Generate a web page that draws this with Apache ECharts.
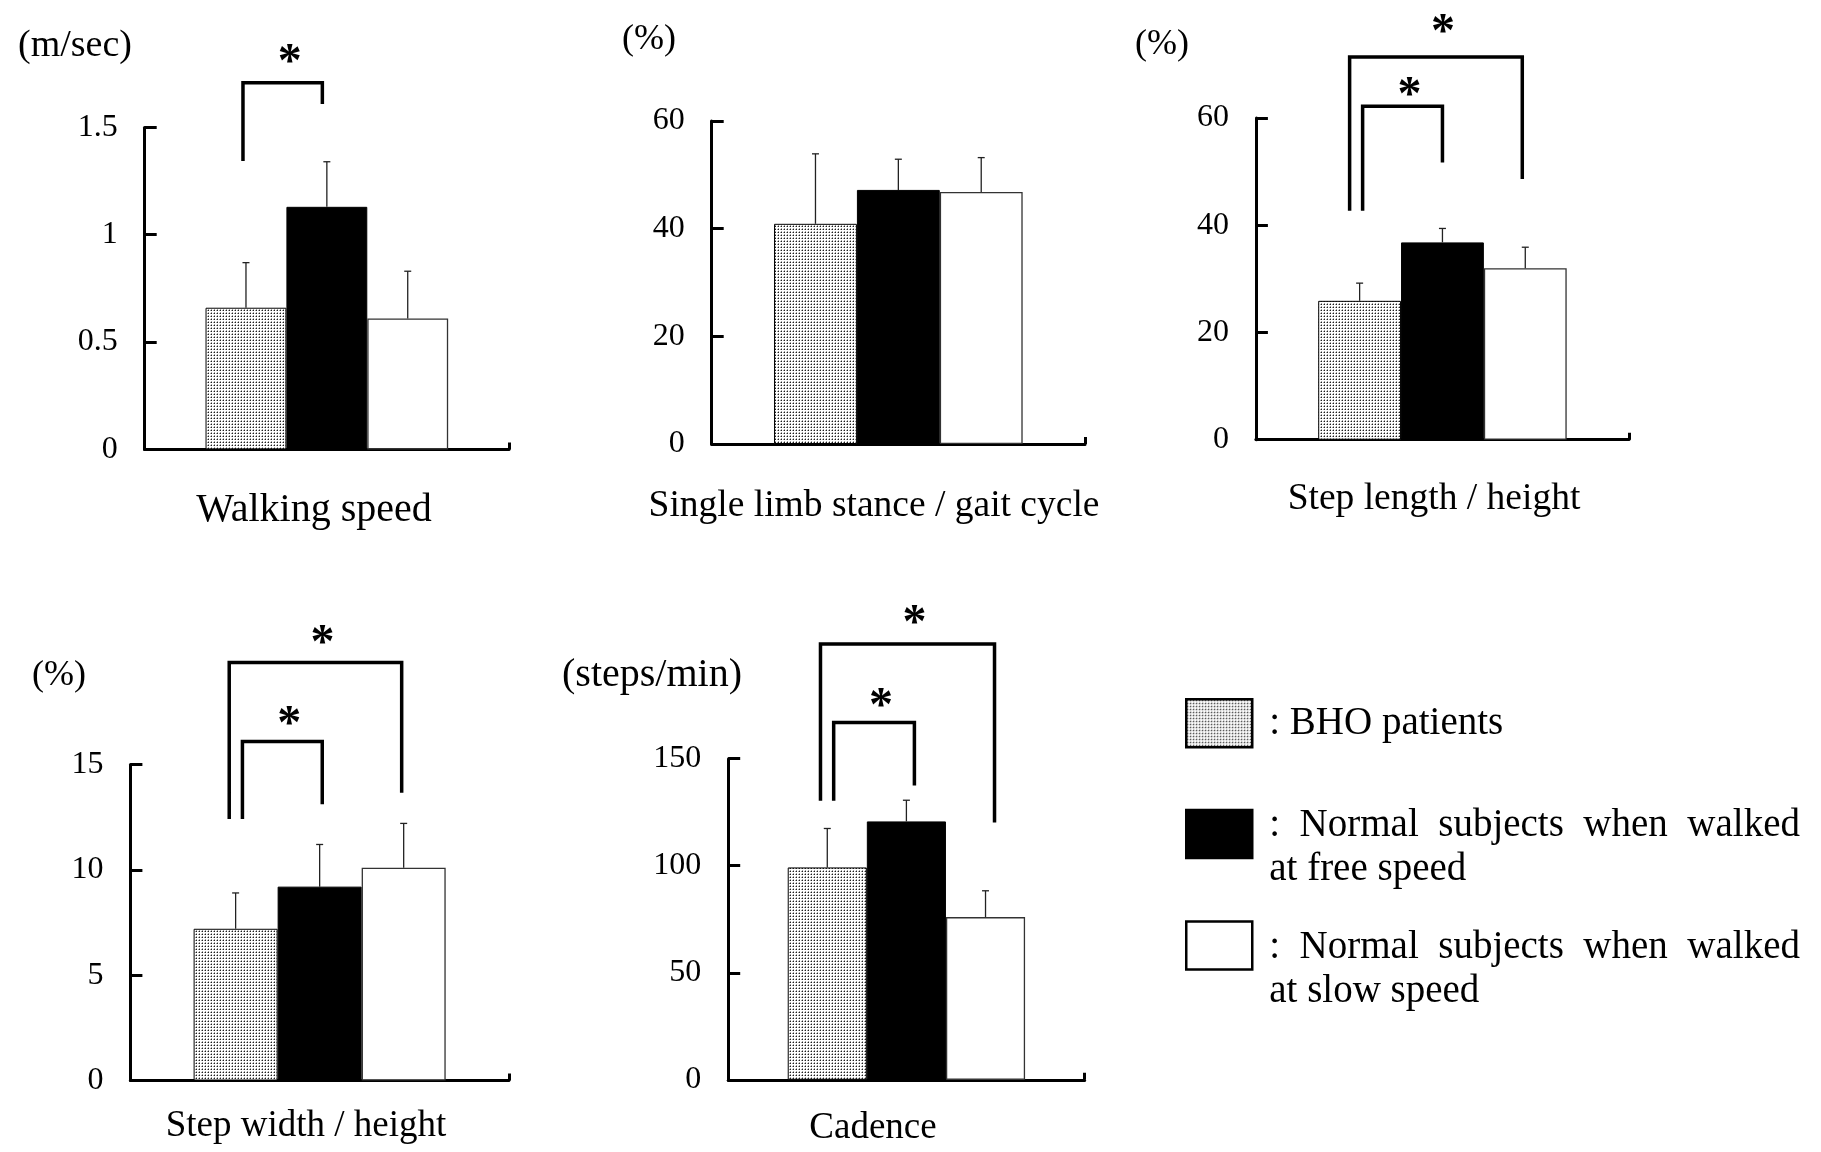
<!DOCTYPE html>
<html><head><meta charset="utf-8">
<script src="https://cdn.jsdelivr.net/npm/echarts@6/dist/echarts.min.js"></script>
<style>html,body{margin:0;padding:0;background:#fff}#c{width:1821px;height:1152px}</style>
</head><body><div id="c"></div>
<script>
// ---------------- data ----------------
const groups = ['BHO patients', 'Normal subjects when walked at free speed', 'Normal subjects when walked at slow speed'];
const panelTitles = ['Walking speed', 'Single limb stance / gait cycle', 'Step length / height', 'Step width / height', 'Cadence'];
const unitLabels = ['(m/sec)', '(%)', '(%)', '(%)', '(steps/min)'];

const walkingSpeed   = [0.66, 1.13, 0.61];
const walkingSpeedSD = [0.21, 0.21, 0.22];
const singleLimb     = [40.9, 47.2, 46.8];
const singleLimbSD   = [13.0, 5.7, 6.4];
const stepLength     = [25.9, 36.8, 32.0];
const stepLengthSD   = [3.3, 2.6, 3.9];
const stepWidth      = [7.2, 9.2, 10.1];
const stepWidthSD    = [1.7, 2.0, 2.1];
const cadence        = [99.2, 120.7, 76.0];
const cadenceSD      = [18.2, 9.9, 12.3];

const yMax  = [1.5, 60, 60, 15, 150];
const yStep = [0.5, 20, 20, 5, 50];

// significance brackets (in axis units): top line, leg ends, star height
const sigBrackets = [
  [{from: 0, to: 1, top: 1.708, fromEnd: 1.343, toEnd: 1.609, star: 1.837}],
  [],
  [{from: 0, to: 2, top: 71.4, fromEnd: 42.7, toEnd: 48.6, star: 77.5},
   {from: 0, to: 1, top: 62.2, fromEnd: 42.7, toEnd: 51.7, star: 65.6}],
  [{from: 0, to: 2, top: 19.83, fromEnd: 12.41, toEnd: 13.65, star: 21.13},
   {from: 0, to: 1, top: 16.09, fromEnd: 12.41, toEnd: 13.11, star: 17.29}],
  [{from: 0, to: 2, top: 203.6, fromEnd: 130.4, toEnd: 120.2, star: 216.8},
   {from: 0, to: 1, top: 166.9, fromEnd: 130.4, toEnd: 137.5, star: 178.1}]
];

const panelValues = [walkingSpeed, singleLimb, stepLength, stepWidth, cadence];
const panelSD = [walkingSpeedSD, singleLimbSD, stepLengthSD, stepWidthSD, cadenceSD];

// ---------------- layout / style ----------------
const FONT = 'Liberation Serif';
const GAP = 0.334;
const grids = [
  {left: 144.7, top: 127.4, width: 364.3, height: 322},
  {left: 711.7, top: 121, width: 373.3, height: 323},
  {left: 1255.9, top: 118, width: 373.1, height: 321.7},
  {left: 130.4, top: 764.4, width: 378.5, height: 316.1},
  {left: 728.2, top: 758.7, width: 356.4, height: 321.1}
];
const titlePos = [[314, 510, 40], [874, 506, 37.5], [1434, 499.3, 37.5], [306, 1126.2, 37], [873, 1128, 37]];
const unitPos = [[132, 46.5, 38], [676, 39.6, 36], [1189, 44.8, 36], [86, 675.7, 36], [742, 675.7, 40]];
// horizontal pixel nudges of bracket legs [left, right]
const bracketDx = [
  [[-3, -4.5]],
  [],
  [[-10, -3], [3, 0]],
  [[-6.4, -2], [6.8, 2.6]],
  [[-6.8, 9], [6.4, 8]]
];

function stipple() {
  const c = document.createElement('canvas');
  c.width = 3; c.height = 3;
  const g = c.getContext('2d');
  g.fillStyle = '#ffffff'; g.fillRect(0, 0, 3, 3);
  g.fillStyle = '#a0a0a0'; g.fillRect(0, 1, 1, 1); g.fillRect(1, 0, 1, 1);
  g.fillStyle = '#1e1e1e'; g.fillRect(1, 1, 1, 1);
  return {image: c, repeat: 'repeat'};
}
const pattern = stipple();
const barStyles = [
  {color: pattern, borderColor: '#000', borderWidth: 1},
  {color: '#000', borderColor: '#000', borderWidth: 1},
  {color: '#fff', borderColor: '#333', borderWidth: 1.3}
];

const legendLabels = [
  '{t|: BHO patients}',
  '{s| }\n{t|:  Normal  subjects  when  walked}\n{t|at free speed}',
  '{s2| }\n{t|:  Normal  subjects  when  walked}\n{t|at slow speed}'
];

const option = {
  animation: false,
  backgroundColor: '#fff',
  textStyle: {fontFamily: FONT, color: '#000'},
  grid: grids.map(g => Object.assign({containLabel: false}, g)),
  xAxis: grids.map((g, i) => ({
    type: 'category', gridIndex: i, data: [''],
    axisLine: {show: true, lineStyle: {color: '#000', width: 3}},
    axisTick: {show: true, inside: true, length: 7, lineStyle: {color: '#000', width: 3}},
    axisLabel: {show: false}, splitLine: {show: false}
  })),
  yAxis: grids.map((g, i) => ({
    type: 'value', gridIndex: i, min: 0, max: yMax[i], interval: yStep[i],
    axisLine: {show: true, lineStyle: {color: '#000', width: 3}},
    axisTick: {show: true, inside: true, length: 12, lineStyle: {color: '#000', width: 3}},
    axisLabel: {show: true, fontSize: 32, fontFamily: FONT, color: '#000', margin: 27},
    splitLine: {show: false}
  })),
  legend: [0, 1, 2].map(k => ({
    data: [groups[k]],
    left: 1185,
    top: [698, 776.75, 878][k],
    orient: 'vertical',
    padding: 0,
    icon: 'rect',
    itemWidth: 66, itemHeight: 48,
    selectedMode: false,
    itemStyle: {borderColor: '#000', borderWidth: 2.5},
    formatter: () => legendLabels[k],
    textStyle: {
      fontFamily: FONT, fontSize: 39, color: '#000', lineHeight: 43.5,
      rich: {
        t: {fontFamily: FONT, fontSize: 39, color: '#000', lineHeight: 43.5, padding: [0, 0, 0, 12]},
        s: {fontSize: 8, lineHeight: 27.5},
        s2: {fontSize: 8, lineHeight: 48}
      }
    }
  })),
  graphic: [],
  series: []
};

panelTitles.forEach((t, i) => {
  option.graphic.push({
    type: 'text', x: titlePos[i][0], y: titlePos[i][1], silent: true,
    style: {text: t, font: titlePos[i][2] + 'px "' + FONT + '"', fill: '#000',
      align: 'center', verticalAlign: 'middle', textAlign: 'center', textVerticalAlign: 'middle'}
  });
  option.graphic.push({
    type: 'text', x: unitPos[i][0], y: unitPos[i][1], silent: true,
    style: {text: unitLabels[i], font: unitPos[i][2] + 'px "' + FONT + '"', fill: '#000',
      align: 'right', verticalAlign: 'middle', textAlign: 'right', textVerticalAlign: 'middle'}
  });
});

for (let p = 0; p < 5; p++) {
  groups.forEach((name, k) => {
    option.series.push({
      type: 'bar', name: name, xAxisIndex: p, yAxisIndex: p,
      data: [panelValues[p][k]],
      barGap: '0%', barCategoryGap: (GAP * 100) + '%',
      itemStyle: barStyles[k], emphasis: {disabled: true}, z: 2
    });
  });
  // error bars
  option.series.push({
    type: 'custom', name: 'sd' + p, xAxisIndex: p, yAxisIndex: p, z: 3, clip: false,
    data: groups.map((g, k) => [0, panelValues[p][k], panelSD[p][k], k]),
    renderItem: function (params, api) {
      const band = api.size([1, 0])[0];
      const bw = band * (1 - GAP) / 3;
      const c = api.coord([0, api.value(1)]);
      const t = api.coord([0, api.value(1) + api.value(2)]);
      const x = c[0] + (api.value(3) - 1) * bw;
      return {type: 'group', children: [
        {type: 'line', shape: {x1: x, y1: c[1], x2: x, y2: t[1]}, style: {stroke: '#222', lineWidth: 1.3}},
        {type: 'line', shape: {x1: x - 3.5, y1: t[1], x2: x + 3.5, y2: t[1]}, style: {stroke: '#222', lineWidth: 1.3}}
      ]};
    }
  });
  // significance brackets
  if (sigBrackets[p].length) {
    const brs = sigBrackets[p];
    option.series.push({
      type: 'custom', name: 'sig' + p, xAxisIndex: p, yAxisIndex: p, z: 4, clip: false,
      data: brs.map(b => [0, b.top]),
      renderItem: function (params, api) {
        const b = brs[params.dataIndex];
        const dx = bracketDx[p][params.dataIndex];
        const band = api.size([1, 0])[0];
        const bw = band * (1 - GAP) / 3;
        const c0 = api.coord([0, 0])[0];
        const xl = c0 + (b.from - 1) * bw + dx[0];
        const xr = c0 + (b.to - 1) * bw + dx[1];
        const yt = api.coord([0, b.top])[1];
        const yl = api.coord([0, b.fromEnd])[1];
        const yr = api.coord([0, b.toEnd])[1];
        const ys = api.coord([0, b.star])[1];
        return {type: 'group', children: [
          {type: 'polyline', shape: {points: [[xl, yl], [xl, yt], [xr, yt], [xr, yr]]},
           style: {stroke: '#000', lineWidth: 3.5, fill: null, lineJoin: 'miter', lineCap: 'butt'}},
          {type: 'text', x: (xl + xr) / 2 + 7, y: ys + 9,
           style: {text: '*', font: 'bold 48px "' + FONT + '"', fill: '#000',
             align: 'center', verticalAlign: 'middle', textAlign: 'center', textVerticalAlign: 'middle'}}
        ]};
      }
    });
  }
}

const chart = echarts.init(document.getElementById('c'), null, {renderer: 'canvas'});
chart.setOption(option);
</script>
</body></html>
